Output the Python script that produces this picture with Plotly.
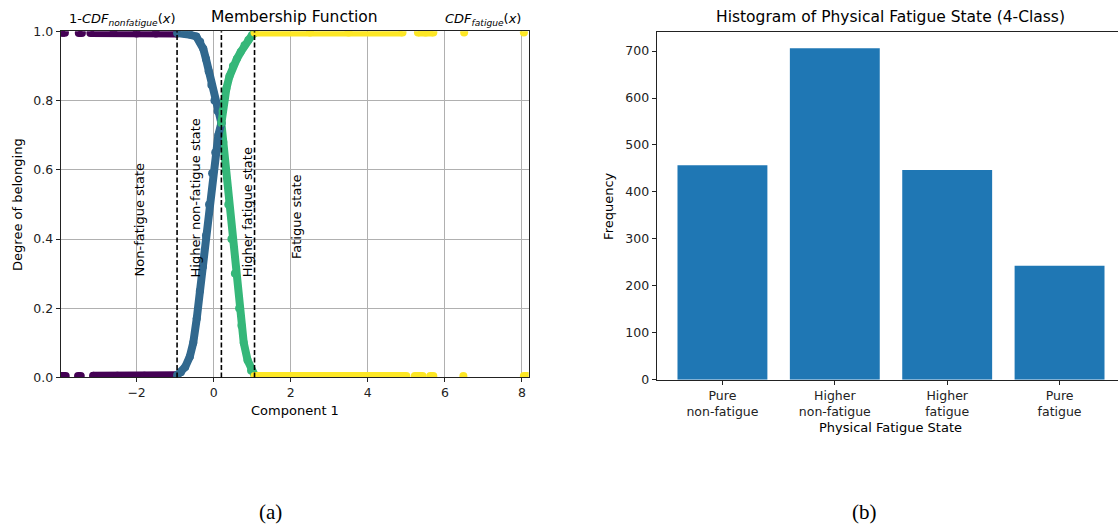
import plotly.graph_objects as go

# ---------------- data: membership function (panel a) ----------------
thresholds = [-0.95, 0.2, 1.06]

# 1-CDF_nonfatigue(x) branch (descending), per class
purple_desc_x = [-3.95, -3.86, None, -3.5, -3.42, None, -3.2, -2.6, -2.0, -1.5, -0.95]
purple_desc_y = [0.996, 0.996, None, 0.995, 0.995, None, 0.995, 0.995, 0.994, 0.994, 0.994]
blue_desc_x = [-0.95, -0.75, -0.6, -0.45, -0.35, -0.27, -0.2, -0.13, -0.06, 0.02, 0.1, 0.2]
blue_desc_y = [0.995, 0.994, 0.99, 0.985, 0.97, 0.95, 0.92, 0.885, 0.845, 0.80, 0.77, 0.735]
green_desc_x = [0.2, 0.25, 0.31, 0.38, 0.46, 0.55, 0.66, 0.72, 0.78, 0.88, 0.97, 1.06]
green_desc_y = [0.735, 0.68, 0.6, 0.5, 0.4, 0.3, 0.2, 0.15, 0.1, 0.05, 0.02, 0.007]
yellow_desc_x = [1.06, 2.8, 3.4, 4.2, 5.0, None, 5.22, 5.42, None, 5.62, 5.7, None, 6.48, None, 8.05, 8.15]
yellow_desc_y = [0.004, 0.004, 0.004, 0.004, 0.004, None, 0.004, 0.004, None, 0.004, 0.004, None, 0.004, None, 0.004, 0.004]

# CDF_fatigue(x) branch (ascending), per class
purple_asc_x = [-3.96, -3.84, None, -3.52, -3.45, None, -3.13, -2.5, -1.8, -0.95]
purple_asc_y = [0.004, 0.004, None, 0.004, 0.004, None, 0.005, 0.005, 0.005, 0.006]
blue_asc_x = [-0.95, -0.85, -0.74, -0.62, -0.53, -0.44, -0.36, -0.28, -0.2, -0.12, -0.04, 0.04, 0.12, 0.2]
blue_asc_y = [0.006, 0.015, 0.03, 0.06, 0.1, 0.17, 0.25, 0.32, 0.41, 0.5, 0.59, 0.65, 0.7, 0.735]
green_asc_x = [0.2, 0.23, 0.27, 0.33, 0.41, 0.5, 0.6, 0.7, 0.8, 0.9, 1.0, 1.06]
green_asc_y = [0.735, 0.77, 0.8, 0.835, 0.87, 0.9, 0.92, 0.94, 0.96, 0.975, 0.99, 0.995]
yellow_asc_x = [1.06, 2.5, 3.5, 4.9, None, 5.3, 5.5, 5.7, None, 6.5, None, 8.05]
yellow_asc_y = [0.997, 0.997, 0.997, 0.997, None, 0.997, 0.997, 0.997, None, 0.997, None, 0.997]

class_colors = ["#440154", "#31688e", "#35b779", "#fde725"]

region_labels = ["Non-fatigue state", "Higher non-fatigue state", "Higher fatigue state", "Fatigue state"]
region_label_x = [-1.9, -0.46, 0.87, 2.15]
region_label_y = [0.455, 0.52, 0.478, 0.465]

x_ticks_a = [-2, 0, 2, 4, 6, 8]
y_ticks_a = [0.0, 0.2, 0.4, 0.6, 0.8, 1.0]

# ---------------- data: histogram (panel b) ----------------
categories = ["Pure<br>non-fatigue", "Higher<br>non-fatigue", "Higher<br>fatigue", "Pure<br>fatigue"]
frequencies = [457, 706, 447, 243]
y_ticks_b = [0, 100, 200, 300, 400, 500, 600, 700]

# ---------------- layout geometry ----------------
W, H = 1118, 526
FONT = "DejaVu Sans, Liberation Sans, sans-serif"
SPINE = "#222222"
V_SCALE, V_OFF = 0.974, 7.8   # empirical correction of the vertical placement

def px_x(p):
    return p / W

def px_y(p):
    s = p / V_SCALE - V_OFF
    return 1 - s / H

fig = go.Figure()

def band(x, y, color):
    return go.Scatter(
        x=x, y=y, mode="lines+markers",
        line=dict(color=color, width=8),
        marker=dict(color=color, size=8),
        connectgaps=False, showlegend=False, hoverinfo="skip",
        xaxis="x", yaxis="y",
    )

desc = [(purple_desc_x, purple_desc_y), (blue_desc_x, blue_desc_y),
        (green_desc_x, green_desc_y), (yellow_desc_x, yellow_desc_y)]
asc = [(purple_asc_x, purple_asc_y), (blue_asc_x, blue_asc_y),
       (green_asc_x, green_asc_y), (yellow_asc_x, yellow_asc_y)]
for (xs, ys), c in zip(desc, class_colors):
    fig.add_trace(band(xs, ys, c))
for (xs, ys), c in zip(asc, class_colors):
    fig.add_trace(band(xs, ys, c))

fig.add_trace(go.Bar(
    x=list(range(len(frequencies))), y=frequencies, width=0.8,
    marker=dict(color="#1f77b4", line=dict(width=0)),
    xaxis="x2", yaxis="y2", showlegend=False, hoverinfo="skip",
))

shapes = []
for t in thresholds:
    shapes.append(dict(type="line", xref="x", yref="y domain", x0=t, x1=t, y0=0, y1=1,
                       line=dict(color="black", width=1.6, dash="5px,2.5px"), layer="above"))

annotations = []
for lab, lx, ly in zip(region_labels, region_label_x, region_label_y):
    annotations.append(dict(text=lab, x=lx, y=ly, xref="x", yref="y", showarrow=False,
                            textangle=-90, font=dict(size=13, color="black", family=FONT),
                            xanchor="center", yanchor="middle"))

def paper_text(text, x, y, size=13, xanchor="center", yanchor="middle", angle=0, family=FONT):
    return dict(text=text, x=x, y=y, xref="paper", yref="paper", showarrow=False,
                textangle=angle, font=dict(size=size, color="black", family=family),
                xanchor=xanchor, yanchor=yanchor)

# titles & axis titles
annotations += [
    paper_text("Membership Function", px_x(294.7), px_y(17), size=15.5),
    paper_text("1-<i>CDF</i><sub><i>nonfatigue</i></sub>(<i>x</i>)", px_x(67), px_y(30),
               size=13, xanchor="left", yanchor="bottom"),
    paper_text("<i>CDF</i><sub><i>fatigue</i></sub>(<i>x</i>)", px_x(523), px_y(30),
               size=13, xanchor="right", yanchor="bottom"),
    paper_text("Degree of belonging", px_x(18), px_y(205), angle=-90),
    paper_text("Component 1", px_x(294.7), px_y(411)),
    paper_text("Histogram of Physical Fatigue State (4-Class)", px_x(891), px_y(17), size=15.5),
    paper_text("Frequency", px_x(609), px_y(207), angle=-90),
    paper_text("Physical Fatigue State", px_x(890), px_y(428)),
    paper_text("(a)", px_x(270), px_y(513), size=21, family="Liberation Serif, DejaVu Serif, serif"),
    paper_text("(b)", px_x(864), px_y(513), size=21, family="Liberation Serif, DejaVu Serif, serif"),
]

axis_common = dict(showline=True, linecolor=SPINE, linewidth=1, ticks="outside", ticklen=4,
                   tickwidth=1, tickcolor=SPINE, zeroline=False,
                   tickfont=dict(size=12.5, color="#222", family=FONT))

fig.update_layout(
    width=W, height=H,
    margin=dict(l=0, r=0, t=0, b=0),
    paper_bgcolor="white", plot_bgcolor="white",
    font=dict(family=FONT, color="black"),
    showlegend=False,
    shapes=shapes,
    annotations=annotations,
    xaxis=dict(domain=[px_x(60.7), px_x(528.7)], range=[-3.97, 8.175], anchor="y",
               tickvals=x_ticks_a, showgrid=True, gridcolor="#b0b0b0", gridwidth=0.8,
               mirror=True, **axis_common),
    yaxis=dict(domain=[px_y(378), px_y(31)], range=[0, 1], anchor="x",
               tickvals=y_ticks_a, tickformat=".1f", showgrid=True, gridcolor="#b0b0b0",
               gridwidth=0.8, mirror=True, **axis_common),
    xaxis2=dict(domain=[px_x(656.7), 1.0], range=[-0.585, 3.52], anchor="y2",
                tickvals=list(range(len(categories))), ticktext=categories, showgrid=False,
                mirror=True, **axis_common),
    yaxis2=dict(domain=[px_y(380.4), px_y(31.3)], range=[0, 741.3], anchor="x2",
                tickvals=y_ticks_b, showgrid=False, **axis_common),
)

post = (
    "document.documentElement.style.margin='0';document.documentElement.style.overflow='hidden';"
    "document.body.style.margin='0';document.body.style.padding='0';document.body.style.overflow='hidden';"
    "var gd=document.getElementsByClassName('plotly-graph-div')[0];"
    "gd.style.position='fixed';gd.style.top='0px';gd.style.left='0px';"
)

fig.write_html("out.html", post_script=post, config={"displayModeBar": False, "responsive": False})
